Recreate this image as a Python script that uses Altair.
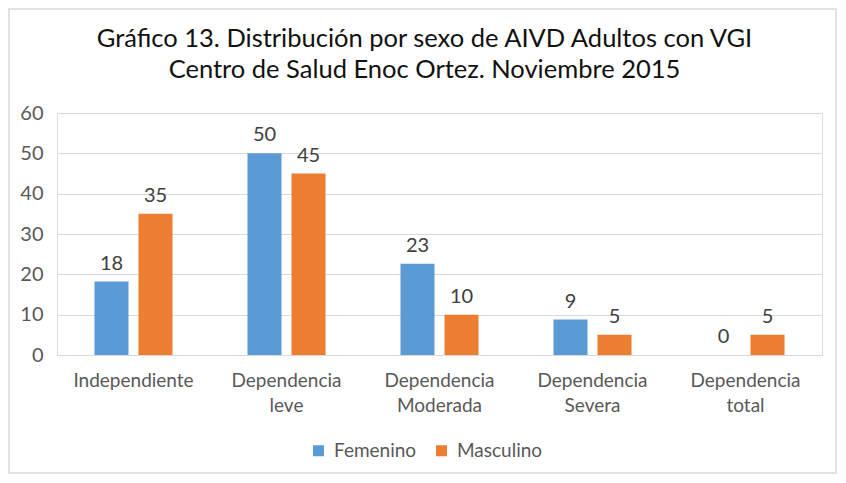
import altair as alt
import pandas as pd

categorias = ["Independiente", "Dependencia leve", "Dependencia Moderada",
              "Dependencia Severa", "Dependencia total"]
femenino = [18.2, 50, 22.6, 8.8, 0]
masculino = [35, 45, 10, 5, 5]
series = ["Femenino", "Masculino"]
colores = ["#5b9bd5", "#ed7d31"]
titulo = ["Gráfico 13. Distribución por sexo de AIVD Adultos con VGI",
          "Centro de Salud Enoc Ortez. Noviembre 2015"]

rows = []
for c, f, m in zip(categorias, femenino, masculino):
    rows.append({"cat": c, "sexo": series[0], "valor": f})
    rows.append({"cat": c, "sexo": series[1], "valor": m})
df = pd.DataFrame(rows)

FONT = "Lato"
FS = 19
W, H = 765, 242

x_enc = alt.X("cat:N", sort=categorias,
              scale=alt.Scale(paddingInner=0.49, paddingOuter=0.245),
              axis=alt.Axis(title=None, labelAngle=0, ticks=False,
                            labelExpr="split(datum.label, ' ')",
                            labelFontSize=FS, labelColor="#595959", labelFont=FONT,
                            labelLineHeight=25, labelPadding=16, labelBaseline="top",
                            domainColor="#d9d9d9", domainWidth=1))
xoff = alt.XOffset("sexo:N", sort=series,
                   scale=alt.Scale(paddingInner=0.2273, paddingOuter=0))
y_enc = alt.Y("valor:Q", scale=alt.Scale(domain=[0, 60], nice=False),
              axis=alt.Axis(title=None, values=[0, 10, 20, 30, 40, 50, 60],
                            domain=False, ticks=False, gridColor="#d9d9d9",
                            labelFontSize=20, labelColor="#595959", labelFont=FONT,
                            labelPadding=14))
color = alt.Color("sexo:N", sort=series,
                  scale=alt.Scale(domain=series, range=colores),
                  legend=alt.Legend(title=None, orient="none", direction="horizontal",
                                    legendX=252, legendY=328,
                                    symbolType="square", symbolSize=121,
                                    symbolStrokeWidth=0, labelFontSize=FS,
                                    labelFont=FONT, labelColor="#595959",
                                    labelOffset=6, columnPadding=15))

base = alt.Chart(df)
bars = base.mark_bar().encode(x=x_enc, xOffset=xoff, y=y_enc, color=color)
labels = base.mark_text(dy=-12, baseline="alphabetic", fontSize=20, font=FONT,
                        color="#404040").encode(
    x=alt.X("cat:N", sort=categorias), xOffset=alt.XOffset("sexo:N", sort=series),
    y="valor:Q", text=alt.Text("valor:Q", format=".0f"))

frame = alt.Chart(pd.DataFrame({"a": [0]})).mark_rect(
    fill=None, stroke="#d9d9d9", strokeWidth=1.5).encode(
    x=alt.value(-48), x2=alt.value(779), y=alt.value(-104), y2=alt.value(360))

title_mark = alt.Chart(pd.DataFrame({"a": [0]})).mark_text(
    fontSize=25.5, font=FONT, color="#111111", lineHeight=31,
    align="center", baseline="alphabetic").encode(
    x=alt.value(367.5), y=alt.value(-66), text=alt.value(titulo))

chart = alt.layer(frame, title_mark, bars, labels).properties(
    width=W, height=H,
    autosize=alt.AutoSizeParams(type="none"),
    padding={"left": 49, "top": 105, "right": 16, "bottom": 119},
).configure_view(stroke=None).configure(background="white")

chart.save("out.html", embed_options={"renderer": "svg", "actions": False})
